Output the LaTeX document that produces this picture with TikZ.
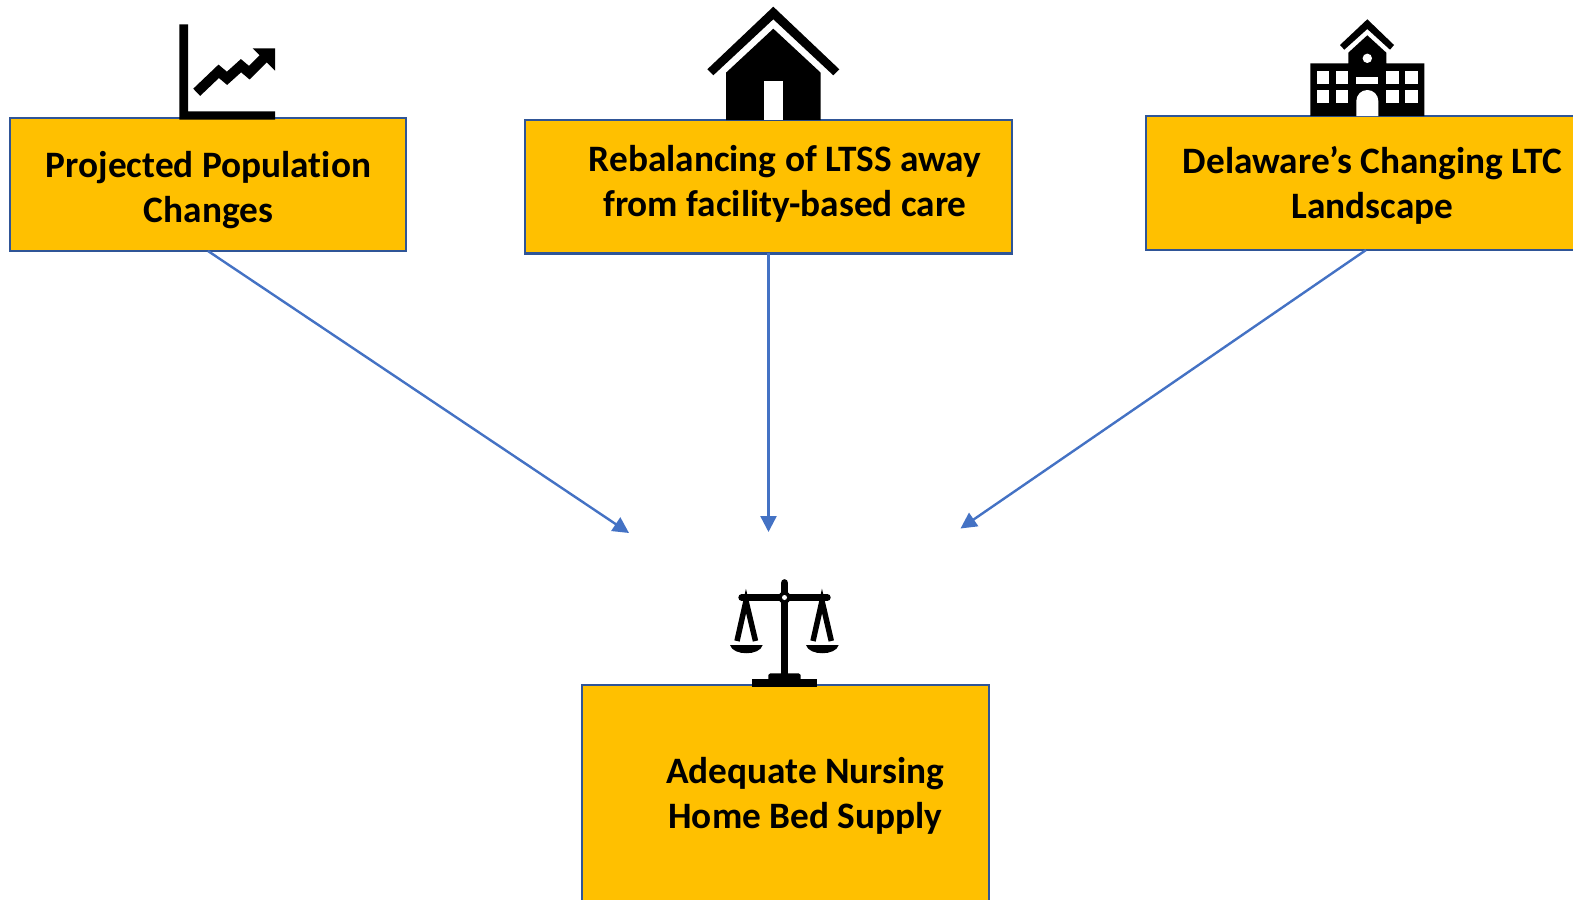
\documentclass[tikz,border=0pt]{standalone}
\usepackage{fontspec}
\setmainfont{Carlito}[Ligatures=NoCommon]
\usetikzlibrary{arrows.meta}
\definecolor{boxfill}{HTML}{FFC000}
\definecolor{boxline}{HTML}{2F5597}
\definecolor{arrowline}{HTML}{4472C4}
\tikzset{
	>={Triangle[length=16pt,width=16pt]},
	factor/.style={
		draw=boxline,
		fill=boxfill,
		line width=2.4pt,
		inner sep=0pt,
		outer sep=0pt
	},
	caption/.style={
		align=center,
		inner sep=0pt,
		font=\fontsize{37.3}{45}\selectfont\bfseries
	},
	link/.style={
		draw=arrowline,
		line width=2.4pt,
		->
	},
	icon/.style={
		fill=black,
		draw=none
	},
	cutout/.style={
		fill=white,
		draw=none
	}
}

\begin{document}
\begin{tikzpicture}[x=1pt,y=-1pt]
	\useasboundingbox (0,0) rectangle (1573,899);

	\node [factor,minimum width=396.5pt,minimum height=133pt] (population) at (208,184.5) {};
	\node [factor,minimum width=487pt,minimum height=133.5pt] (rebalancing) at (768.5,186.7) {};
	\node [factor,minimum width=440pt,minimum height=134pt] (landscape) at (1366,183) {};
	\node [factor,minimum width=406.5pt,minimum height=220pt] (supply) at (785.5,795) {};

	\node [caption] (populationtext) at (208.5,190) {Projected Population\\Changes};
	\node [caption] (rebalancingtext) at (785,184) {Rebalancing of LTSS away\\from facility-based care};
	\node [caption] (landscapetext) at (1372.5,185.2) {Delaware’s Changing LTC\\Landscape};
	\node [caption] (supplytext) at (805.3,796) {Adequate Nursing\\Home Bed Supply};

	\coordinate (tipa) at (629,533);
	\coordinate (tipb) at (768.5,532);
	\coordinate (tipc) at (960.5,528.5);
	\draw [link] (population.south) -- (tipa);
	\draw [link] (rebalancing.south) -- (tipb);
	\draw [link] (landscape.south) -- (tipc);

	% chart
	\fill [icon] (179.3,24.3) -- (188,24.3) -- (188,111.3) -- (275,111.3) -- (275,119.7) -- (179.3,119.7) -- cycle;
	\draw [line width=10pt] (196.7,92.3) -- (218.7,71.3) -- (227,78.3) -- (241,65.7) -- (249.3,72.7) -- (266.7,55.3);
	\fill [icon] (252.7,48.3) -- (275,48.3) -- (275,70.7) -- cycle;

	% house
	\fill [icon] (773.3,6.7) -- (839.3,69.3) -- (833.3,75.3) -- (773.3,19.3) -- (713.3,75.3) -- (707.3,69.3) -- cycle;
	\fill [icon] (773.3,28.7) -- (820.7,72.7) -- (820.7,120) -- (726,120) -- (726,72.7) -- cycle;
	\fill [cutout] (763.7,80.7) rectangle (782.7,120);

	% school
	\fill [icon] (1367.3,19.3) -- (1394,45) -- (1390,49.7) -- (1367.3,29) -- (1344.3,49.7) -- (1340,45) -- cycle;
	\fill [icon] (1367.3,35.3) -- (1386.3,52.7) -- (1386.3,63.3) -- (1424.3,63.3) -- (1424.3,116) -- (1310.3,116) -- (1310.3,63.3) -- (1348.3,63.3) -- (1348.3,52.7) -- cycle;
	\fill [cutout] (1367.3,58.3) circle (4.7);
	\foreach \wx in {1316.7,1335.7,1386.3,1405.3}
		\foreach \wy in {71.3,90}
			\fill [cutout] (\wx,\wy) rectangle ++(12.7,12.7);
	\fill [cutout] (1356.3,77.3) rectangle (1378.3,83.7);
	\fill [cutout] (1356.3,116) -- (1356.3,101) arc [start angle=180,end angle=360,x radius=11,y radius=11] -- (1378.3,116) -- cycle;

	% scales
	\draw [line width=7.7pt,line cap=round] (784.5,583) -- (784.5,675);
	\draw [line width=7pt,line cap=round] (741.8,597.5) -- (827.2,597.5);
	\fill [icon] (784.5,597.5) circle (6.2);
	\fill [cutout] (784.5,597.5) circle (2.5);
	\fill [icon] (768.3,680) -- (768.3,675) -- (770.3,673.3) -- (798.7,673.3) -- (800.7,675) -- (800.7,680) -- cycle;
	\fill [icon] (752,679.3) rectangle (817.3,687.3);
	\foreach \sx/\sl/\sr in {746/737/755.5,822/813/831.3} {
		\draw [line width=5.5pt] (\sl,641) -- (\sx,601) -- (\sr,641);
	}
	\foreach \px in {730,806}
		\fill [icon] (\px,645) -- ++(32.7,0) .. controls ++(-3,11) and ++(3,11) .. ++(-32.7,0) -- cycle;
\end{tikzpicture}
\end{document}
